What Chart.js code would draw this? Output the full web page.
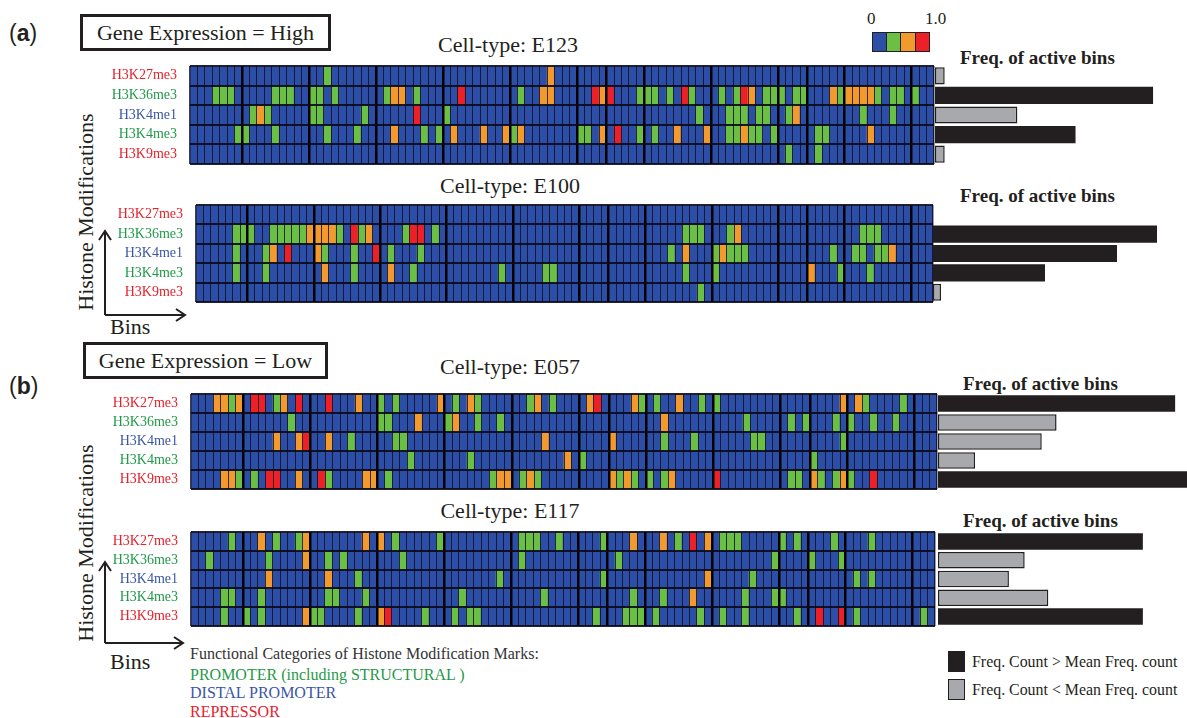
<!DOCTYPE html>
<html><head><meta charset="utf-8">
<script src="https://cdn.jsdelivr.net/npm/chart.js@4.4.0/dist/chart.umd.min.js"></script>
<style>
body{margin:0;background:#fff;}
#page{position:relative;width:1187px;height:718px;overflow:hidden;background:#fff;font-family:'Liberation Serif','Times New Roman',serif;color:#231f20;}
.t{position:absolute;white-space:nowrap;line-height:1;}
.vc{transform:translateY(-50%);}
canvas{position:absolute;}
.box{position:absolute;border:3px solid #231f20;box-sizing:border-box;font-size:22px;display:flex;align-items:center;justify-content:center;}
.sq{position:absolute;box-sizing:border-box;border:1.5px solid #231f20;}
</style></head><body><div id="page">

<div class="t vc" style="left:9px;top:33px;font-family:'Liberation Sans',Arial,sans-serif;font-size:23px;">(<b>a</b>)</div>
<div class="t vc" style="left:9px;top:386px;font-family:'Liberation Sans',Arial,sans-serif;font-size:23px;">(<b>b</b>)</div>
<div class="box" style="left:80px;top:14px;width:251px;height:37px;">Gene Expression = High</div>
<div class="box" style="left:83px;top:342px;width:245px;height:37px;">Gene Expression = Low</div>

<div id="titles"></div>

<div class="t" style="left:867px;top:10px;font-size:17px;">0</div>
<div class="t" style="left:925px;top:10px;font-size:17px;">1.0</div>
<div id="cbar"></div>

<div class="t" style="left:86px;top:212px;font-size:22px;transform:translate(-50%,-50%) rotate(-90deg);">Histone Modifications</div>
<div class="t" style="left:86px;top:543px;font-size:22px;transform:translate(-50%,-50%) rotate(-90deg);">Histone Modifications</div>
<div class="t vc" style="left:110px;top:327px;font-size:22px;">Bins</div>
<div class="t vc" style="left:110px;top:662px;font-size:22px;">Bins</div>
<svg style="position:absolute;left:0;top:0;" width="1187" height="718">
  <g stroke="#231f20" stroke-width="2" fill="none">
    <path d="M105 315 L105 232 M99 240 L105 231 L111 240"/>
    <path d="M105 315 L184 315 M176 309 L185 315 L176 321"/>
    <path d="M105 643 L105 563 M99 571 L105 562 L111 571"/>
    <path d="M105 643 L182 643 M174 637 L183 643 L174 649"/>
  </g>
</svg>

<div class="t vc" style="left:190px;top:654px;font-size:16px;color:#333;">Functional Categories of Histone Modification Marks:</div>
<div class="t vc" style="left:190px;top:675px;font-size:16px;color:#1f9a48;">PROMOTER (including STRUCTURAL )</div>
<div class="t vc" style="left:190px;top:693px;font-size:16px;color:#3a56a8;">DISTAL PROMOTER</div>
<div class="t vc" style="left:190px;top:712px;font-size:16px;color:#e8202a;">REPRESSOR</div>

<div class="sq" style="left:948px;top:651px;width:17px;height:21px;background:#231f20;"></div>
<div class="sq" style="left:948px;top:679px;width:17px;height:21px;background:#a7a9ac;"></div>
<div class="t vc" style="left:972px;top:662px;font-size:15.9px;">Freq. Count &gt; Mean Freq. count</div>
<div class="t vc" style="left:972px;top:690px;font-size:15.9px;">Freq. Count &lt; Mean Freq. count</div>

<canvas id="h0"></canvas><canvas id="h1"></canvas><canvas id="h2"></canvas><canvas id="h3"></canvas>
<canvas id="b0"></canvas><canvas id="b1"></canvas><canvas id="b2"></canvas><canvas id="b3"></canvas>
</div>
<script>
// ---------- data ----------
const marks = ["H3K27me3","H3K36me3","H3K4me1","H3K4me3","H3K9me3"];
const markColors = ["#e8202a","#1f9a48","#3a56a8","#1f9a48","#e8202a"];
const levelColors = ["#2d4ea6","#6cbf45","#f39a2e","#ec2027"]; // 0 .. 1.0
const cellTypes = ["E123","E100","E057","E117"];
const binCount = 100;
const sectionBreaks = [7,16,25,34,43,52,56,61,70,79,83,88,97];

// cell level per bin, groups of 10 bins (0 = blue, 1 = green, 2 = orange, 3 = red)
const E123_H3K27me3 = "0000000000 0000000010 0000000000 0000000000 0000000020 0000000000 0000000000 0000000000 0000000000 0000000000";
const E123_H3K36me3 = "0001110000 0111001101 0000001220 1000003000 0000100220 0000323000 1110103100 0101320111 0110002122 2210110100";
const E123_H3K4me1  = "0000000012 1000001100 0001000000 3000100000 0000000000 0000000000 0000000010 0011101100 1200000000 1000100000";
const E123_H3K4me3  = "0000001100 0100000010 0010000200 0101020002 0021200000 0011020300 1010020002 0011211010 0000110000 0200000000";
const E123_H3K9me3  = "0000000000 0000000000 0000000000 0000000000 0000000000 0000000000 0000000000 0000000000 1000100000 0000000000";

const E100_H3K27me3 = "0000000000 0000000000 0000000000 0000000000 0000000000 0000000000 0000000000 0000000000 0000000000 0000000000";
const E100_H3K36me3 = "0000011100 1111122221 0312000013 3010000000 0000000000 0000000000 0000001110 0012000000 0000000000 1110000000";
const E100_H3K4me1  = "0000010001 2030002100 0100301000 1000000000 0000000000 0000000000 0000102000 1211100000 0000001001 1011200000";
const E100_H3K4me3  = "0000010001 0000000200 0100002001 0000000000 0100000110 0000000000 0000001000 1000000000 0002000100 0100000000";
const E100_H3K9me3  = "0000000000 0000000000 0000000000 0000000000 0000000000 0000000000 0000000010 0000000000 0000000000 0000000000";

const E057_H3K27me3 = "0002212033 0120300030 0020010100 0002010210 0000012010 0002300002 1010020010 1000000000 0000000202 1000010000";
const E057_H3K36me3 = "0000000000 0001000000 0000011000 2000120010 0100000000 0000000000 0002000000 0000100000 1010001010 0100100000";
const E057_H3K4me1  = "0000000000 0200230020 0100000110 0000000000 0000000200 0000002000 0001000100 0000011000 0000000100 0000000000";
const E057_H3K4me3  = "0000000000 0000000000 0000000001 0000000100 0000000000 2010000000 0000000000 0000000000 0001000000 0000000000";
const E057_H3K9me3  = "0000221010 3300200310 0002201000 0000000000 1220121000 0000002121 0101200000 3000000000 1102101210 0300000000";

const E117_H3K27me3 = "0000010002 0100120000 0002020100 0001000000 0000111001 0000010002 0002010302 0111000001 0100001000 0100000000";
const E117_H3K36me3 = "0010000000 1000020010 1000000010 0000000000 0000100000 0000000100 0000000000 0000000010 0001000100 0000000000";
const E117_H3K4me1  = "0000000000 2000000020 0010000000 0000000000 0100000000 0000010000 0000000002 0000010000 0000000001 0100000000";
const E117_H3K4me3  = "0000110001 0000000011 0001000000 0000001000 0000000100 0000000001 0001000200 0000100011 0000000000 0000000000";
const E117_H3K9me3  = "0000100101 0000021100 0010023000 0100010110 0000000000 0000100011 1010000010 0100100000 0100300301 0000000010";

// frequency of active bins per mark
const freqE123 = [2, 45, 17, 29, 2];
const freqE100 = [0, 28, 23, 14, 1];
const freqE057 = [32, 16, 14, 5, 34];
const freqE117 = [26, 11, 9, 14, 26];
const freqAxisMax = [52, 31.75, 33.6, 31.6];

// ---------- layout ----------
const grids = [
  {x0:190, x1:934, y0:66,  y1:164, bx:935, tx:508, ty:45,  fx:960, fy:57},
  {x0:196, x1:933, y0:205, y1:302, bx:933, tx:510, ty:186, fx:960, fy:195},
  {x0:191, x1:937, y0:394, y1:489, bx:938, tx:510, ty:367, fx:963, fy:383},
  {x0:191, x1:935, y0:532, y1:626, bx:938, tx:510, ty:511, fx:963, fy:520}
];
const rowsAll = [
  [E123_H3K27me3,E123_H3K36me3,E123_H3K4me1,E123_H3K4me3,E123_H3K9me3],
  [E100_H3K27me3,E100_H3K36me3,E100_H3K4me1,E100_H3K4me3,E100_H3K9me3],
  [E057_H3K27me3,E057_H3K36me3,E057_H3K4me1,E057_H3K4me3,E057_H3K9me3],
  [E117_H3K27me3,E117_H3K36me3,E117_H3K4me1,E117_H3K4me3,E117_H3K9me3]
];
const freqAll = [freqE123, freqE100, freqE057, freqE117];

// titles
const titles = document.getElementById('titles');
grids.forEach((g, i) => {
  const t = document.createElement('div');
  t.className = 't';
  t.style.cssText = `left:${g.tx}px;top:${g.ty}px;font-size:22px;transform:translate(-50%,-50%);`;
  t.textContent = 'Cell-type: ' + cellTypes[i];
  titles.appendChild(t);
  const f = document.createElement('div');
  f.className = 't vc';
  f.style.cssText = `left:${g.fx}px;top:${g.fy}px;font-size:19px;font-weight:bold;`;
  f.textContent = 'Freq. of active bins';
  titles.appendChild(f);
});
// colour scale legend
const cbar = document.getElementById('cbar');
levelColors.forEach((c, i) => {
  const s = document.createElement('div');
  s.className = 'sq';
  s.style.cssText = `left:${872 + i*14.2}px;top:32px;width:15.2px;height:20px;background:${c};`;
  cbar.appendChild(s);
});

Chart.defaults.font.family = "'Liberation Serif','Times New Roman',serif";

function heatmap(id, rowStrings, g) {
  const labelW = 110;
  const cv = document.getElementById(id);
  const left = g.x0 - labelW, top = g.y0 - 1;
  cv.width = g.x1 - left + 1;
  cv.height = g.y1 - g.y0 + 2;
  cv.style.left = left + 'px';
  cv.style.top = top + 'px';
  const labels = Array.from({length: binCount}, (_, i) => 'bin ' + (i + 1));
  const datasets = rowStrings.map((s, r) => {
    const vals = s.replace(/\s+/g, '').slice(0, binCount).padEnd(binCount, '0').split('').map(Number);
    return {
      label: marks[r],
      data: vals.map(() => 1),
      backgroundColor: vals.map(v => levelColors[v]),
      borderWidth: 0,
      barPercentage: 1,
      categoryPercentage: 1,
      yAxisID: 'y'
    };
  });
  new Chart(cv, {
    type: 'bar',
    data: {labels, datasets},
    options: {
      responsive: false, animation: false, devicePixelRatio: 1,
      layout: {padding: {left: 0, right: 1, top: 1, bottom: 1}},
      plugins: {legend: {display: false}, tooltip: {enabled: false}},
      scales: {
        x: {
          stacked: true, offset: true,
          ticks: {display: false, autoSkip: false},
          border: {display: false},
          grid: {
            z: 1, offset: true, drawTicks: false,
            color: ctx => (ctx.index !== undefined && sectionBreaks.includes(ctx.index)) ? '#000' : 'rgba(12,12,30,0.8)',
            lineWidth: ctx => {
              if (ctx.index === undefined || ctx.index === 0) return 1.5;
              return sectionBreaks.includes(ctx.index) ? 2.5 : 1;
            }
          }
        },
        y: {
          stacked: true, reverse: true, min: 0, max: 5,
          ticks: {display: false, stepSize: 1},
          border: {display: false},
          grid: {z: 1, drawTicks: false, color: 'rgba(10,10,25,0.9)', lineWidth: 2}
        },
        yl: {
          type: 'category', labels: marks, position: 'left', offset: true,
          grid: {display: false}, border: {display: false},
          ticks: {color: ctx => markColors[ctx.index], font: {size: 14}, padding: 5, autoSkip: false},
          afterFit: s => { s.width = labelW; s.paddingTop = 0; s.paddingBottom = 0; }
        }
      }
    }
  });
}

function freqBars(id, vals, g, max) {
  const cv = document.getElementById(id);
  cv.width = 1187 - g.bx + 20;
  cv.height = g.y1 - g.y0;
  cv.style.left = g.bx + 'px';
  cv.style.top = g.y0 + 'px';
  const mean = vals.reduce((a, b) => a + b, 0) / vals.length;
  new Chart(cv, {
    type: 'bar',
    data: {labels: marks, datasets: [{
      data: vals,
      backgroundColor: vals.map(v => v > mean ? '#231f20' : '#a7a9ac'),
      borderColor: '#231f20',
      borderWidth: vals.map(v => v > mean ? 0 : 1.5),
      borderSkipped: false,
      barPercentage: 0.88, categoryPercentage: 1
    }]},
    options: {
      indexAxis: 'y', responsive: false, animation: false, devicePixelRatio: 1,
      layout: {padding: 0},
      plugins: {legend: {display: false}, tooltip: {enabled: false}},
      scales: {
        x: {display: false, min: 0, max: max * (cv.width / (1187 - g.bx))},
        y: {display: false}
      }
    }
  });
}

grids.forEach((g, i) => {
  heatmap('h' + i, rowsAll[i], g);
  freqBars('b' + i, freqAll[i], g, freqAxisMax[i]);
});
</script>
</body></html>
